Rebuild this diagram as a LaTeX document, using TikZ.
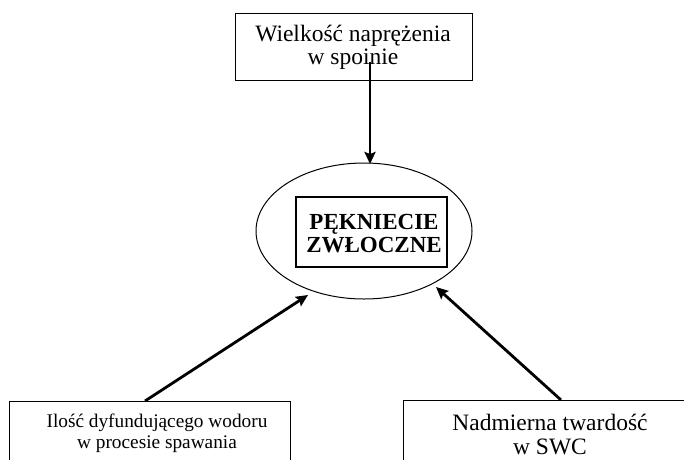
\documentclass[tikz,border=0pt]{standalone}
\usepackage{fontspec}
\setmainfont{Liberation Serif}
\usetikzlibrary{shapes.geometric,arrows.meta}
\tikzset{
  boxframe/.style={draw, line width=1.2pt, inner sep=0pt},
  label/.style={align=center, inner sep=0pt},
  conn/.style={line width=2.8pt, -{Stealth[length=12pt,width=11pt,inset=2pt]}},
}
\begin{document}
\begin{tikzpicture}[x=1pt,y=-1pt]
\useasboundingbox (0,0) rectangle (684,459);
\clip (0,0) rectangle (684,459);
% top box
\node[boxframe, minimum width=237pt, minimum height=67pt, anchor=north west] (top) at (234.5,13) {};
\node[label, font=\fontsize{23.5}{23.5}\selectfont] (toptext) at (353,47.5) {Wielkość naprężenia\\w spoinie};
% ellipse
\node[draw, ellipse, line width=1pt, minimum width=216pt, minimum height=136pt] (ell) at (364,231) {};
\node[boxframe, minimum width=151pt, minimum height=70pt] (inner) at (371.5,232) {};
\node[label, font=\fontsize{23}{23}\bfseries\selectfont] (innertext) at (374,234) {PĘKNIECIE\\ZWŁOCZNE};
% bottom-left box
\node[boxframe, minimum width=281pt, minimum height=80pt, anchor=north west] (bl) at (9,401) {};
\node[label, font=\fontsize{19.3}{21}\selectfont] (bltext) at (157,433.5) {Ilość dyfundującego wodoru\\w procesie spawania};
% bottom-right box
\node[boxframe, minimum width=300pt, minimum height=80pt, anchor=north west] (br) at (403,400) {};
\node[label, font=\fontsize{23.5}{24}\selectfont] (brtext) at (550,434) {Nadmierna twardość\\w SWC};
% connectors
\coordinate (a1) at (370,62);
\coordinate (t1) at (370,164);
\coordinate (a2) at (145,401);
\coordinate (t2) at (308,295);
\coordinate (a3) at (561,400);
\coordinate (t3) at (436,287);
\draw[conn] (a1) -- (t1);
\draw[conn] (a2) -- (t2);
\draw[conn] (a3) -- (t3);
\end{tikzpicture}
\end{document}
